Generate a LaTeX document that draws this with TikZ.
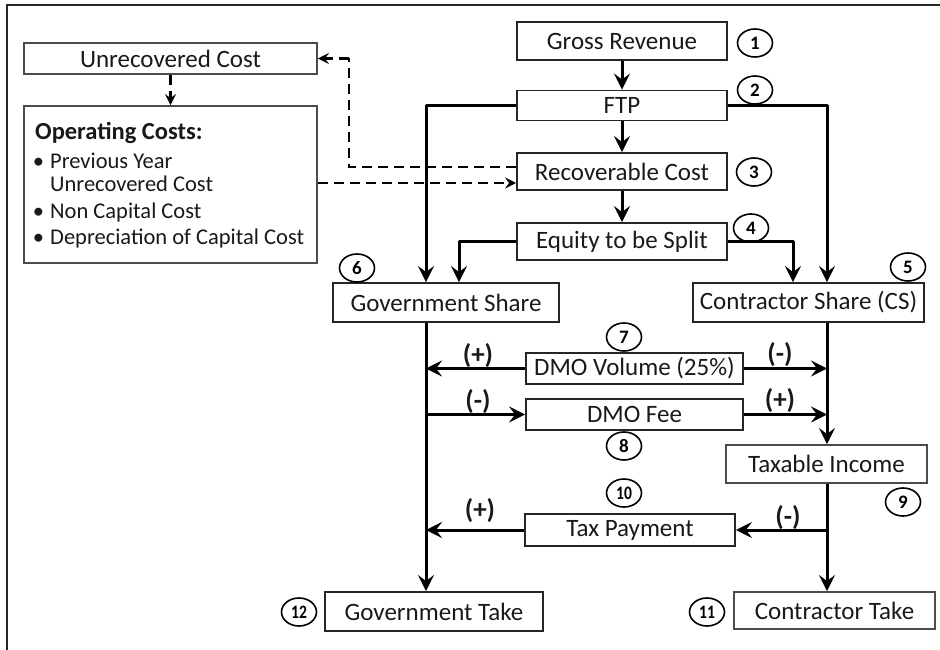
\documentclass[tikz,border=0pt]{standalone}
\usepackage{fontspec}
\usepackage{graphicx}
\setmainfont{Carlito}
\usetikzlibrary{arrows.meta,shapes.geometric,calc}

\begin{document}
\begin{tikzpicture}[x=1pt,y=-1pt,
  box/.style={draw=black!85, line width=1.9pt, inner sep=0pt, text=black!90,
              font=\fontsize{25}{29}\selectfont},
  lbox/.style={box, draw=black!70},
  num/.style={ellipse, draw=black, line width=1.6pt, minimum width=35pt,
              minimum height=28pt, inner sep=0pt, font=\bfseries\fontsize{19}{19}\selectfont},
  sign/.style={font=\bfseries\fontsize{27}{27}\selectfont, inner sep=0pt, text=black!90},
  conn/.style={line width=3pt, line join=round, -{Stealth[length=16pt,width=16pt,inset=6pt]}},
  dconn/.style={line width=2.5pt, dash pattern=on 10pt off 6pt,
                -{Stealth[length=11pt,width=11pt,inset=4pt]}},
  dline/.style={line width=2.5pt, dash pattern=on 10pt off 6pt},
  opline/.style={anchor=base west, inner sep=0pt, text=black!90,
                 font=\fontsize{22.5}{26}\selectfont}
]
\useasboundingbox (0,0) rectangle (940,650);

% frame
\draw[line width=1.6pt, black!85] (7,650) -- (7,5) -- (940,5);

% main flow boxes
\node[box, minimum width=210pt, minimum height=38pt] (gr)   at (622,41)    {Gross Revenue};
\node[box, minimum width=210pt, minimum height=30pt] (ftp)  at (622,105.5) {FTP};
\node[box, minimum width=210pt, minimum height=37pt] (rc)   at (622,171.5) {Recoverable Cost};
\node[box, minimum width=210pt, minimum height=37pt] (eq)   at (622,241.5) {Equity to be Split};
\node[box, minimum width=226pt, minimum height=39pt] (gs)   at (446,302.5) {Government Share};
\node[box, minimum width=231pt, minimum height=39pt] (cs)   at (808.5,302.5) {Contractor Share (CS)};
\node[box, minimum width=217pt, minimum height=31pt] (dmov) at (634.5,368.5) {DMO Volume (25\%)};
\node[box, minimum width=217pt, minimum height=31pt] (dmof) at (634.5,414.5) {DMO Fee};
\node[lbox, minimum width=201pt, minimum height=38pt] (ti)  at (826.5,464) {Taxable Income};
\node[box, minimum width=210pt, minimum height=32pt] (tp)   at (630,530)   {Tax Payment};
\node[box, minimum width=218pt, minimum height=39pt] (gt)   at (434,611.5) {Government Take};
\node[lbox, minimum width=201pt, minimum height=37pt] (ct)  at (834.5,610.5) {Contractor Take};

% cost boxes on the left
\node[lbox, minimum width=293pt, minimum height=31pt] (uc) at (170.5,58.5) {Unrecovered Cost};
\node[lbox, minimum width=293pt, minimum height=157pt] (oc) at (170.5,184.5) {};
\node[opline, font=\bfseries\fontsize{24.5}{28}\selectfont] (oc0) at (35,140) {Operating Costs:};
\node[opline] (oc1) at (50,168) {\llap{\textbullet\hspace{6pt}}Previous Year};
\node[opline] (oc2) at (50,192) {Unrecovered Cost};
\node[opline] (oc3) at (50,218) {\llap{\textbullet\hspace{6pt}}Non Capital Cost};
\node[opline] (oc4) at (50,244) {\llap{\textbullet\hspace{6pt}}Depreciation of Capital Cost};

% step numbers
\node[num] (n1)  at (755,43)  {1};
\node[num] (n2)  at (755,90)  {2};
\node[num] (n3)  at (754,172) {3};
\node[num] (n4)  at (751,228) {4};
\node[num] (n5)  at (908,267) {5};
\node[num] (n6)  at (357,268) {6};
\node[num] (n7)  at (624,337) {7};
\node[num] (n8)  at (624,446) {8};
\node[num] (n9)  at (903,502) {9};
\node[num] (n10) at (624,493) {\scalebox{0.82}[1]{10}};
\node[num] (n11) at (707,612) {\scalebox{0.82}[1]{11}};
\node[num] (n12) at (299,612) {\scalebox{0.82}[1]{12}};

% vertical rails
\coordinate (gl) at (426,0);
\coordinate (cr) at (827,0);
\coordinate (ge) at (459,0);
\coordinate (ce) at (793,0);

% main flow
\draw[conn] (gr) -- (ftp);
\draw[conn] (ftp) -- (rc);
\draw[conn] (rc) -- (eq);
\draw[conn] (ftp.west) -| (gs.north -| gl);
\draw[conn] (ftp.east) -| (cs.north -| cr);
\draw[conn] (eq.west) -| (gs.north -| ge);
\draw[conn] (eq.east) -| (cs.north -| ce);

% government side rail
\draw[conn] (gs.south -| gl) -- (gt.north -| gl);
% contractor side rail
\draw[conn] (cs.south -| cr) -- (ti.north -| cr);
\draw[conn] (ti.south -| cr) -- (ct.north -| cr);

% DMO and tax transfers
\draw[conn] (dmov.west) -- (dmov.west -| gl);
\draw[conn] (dmov.east) -- (dmov.east -| cr);
\draw[conn] (dmof.west -| gl) -- (dmof.west);
\draw[conn] (dmof.east) -- (dmof.east -| cr);
\draw[conn] (tp.east -| cr) -- (tp.east);
\draw[conn] (tp.west) -- (tp.west -| gl);

% signs
\node[sign] (s1) at (478,356) {(+)};
\node[sign] (s2) at (780,355) {(-)};
\node[sign] (s3) at (478,402) {(-)};
\node[sign] (s4) at (780,401) {(+)};
\node[sign] (s5) at (480,511) {(+)};
\node[sign] (s6) at (788,518) {(-)};

% cost recovery loop
\coordinate (d1) at (0,167);
\coordinate (d2) at (0,183);
\coordinate (dk) at (349,0);
\draw[dline] (rc.west |- d1) -| (dk |- uc.east);
\draw[dconn] (dk |- uc.east) -- (uc.east);
\draw[dconn] (oc.east |- d2) -- (rc.west |- d2);
\draw[dconn] (uc.south) -- (oc.north);
\end{tikzpicture}
\end{document}
